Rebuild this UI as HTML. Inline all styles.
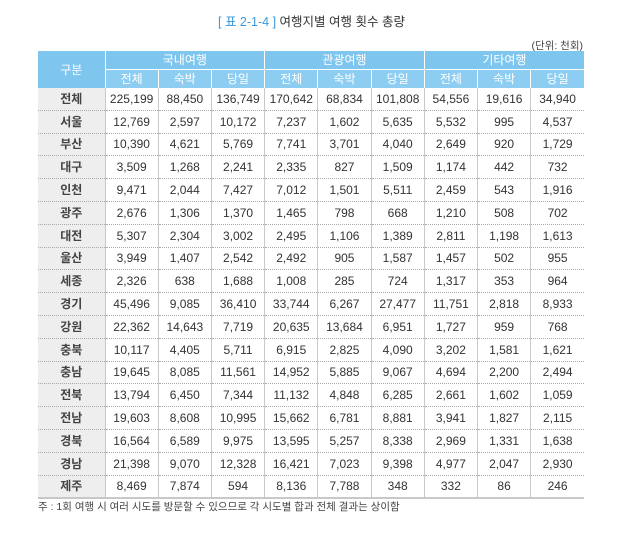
<!DOCTYPE html>
<html><head><meta charset="utf-8"><style>
body{margin:0;width:623px;height:543px;background:#fff;font-family:"Liberation Sans","Noto Sans CJK KR",sans-serif;position:relative;overflow:hidden}
.title{position:absolute;top:11px;left:0;width:623px;text-align:center;font-size:12.5px;color:#333}
.title b{color:#3a9ad9;font-weight:normal}
.unit{position:absolute;top:38px;right:40px;font-size:10.5px;color:#444}
table{position:absolute;left:38px;top:51px;border-collapse:collapse;table-layout:fixed;width:546px}
td,th{padding:0;text-align:center;font-size:12px;color:#333;font-weight:normal;white-space:nowrap;line-height:14px}
th{background:#7fc6ef;color:#fff;font-size:12px;height:18px;border-left:1px solid #fff}
th.sub{background:#8dcdf2;height:18px;border-top:1px solid #fff}
th.g{border-left:none}
td{height:21.8px;border-left:1px solid #c8c8c8;border-bottom:1px dotted #aaa}
td.r{background:#eeeeee;border-left:none;font-weight:bold;color:#444}
tr.last td{border-bottom:2px solid #c8c8c8}
.note{position:absolute;left:38px;top:499px;font-size:10.5px;color:#444}
</style></head><body>
<div class="title"><b>[ 표 2-1-4 ]</b> 여행지별 여행 횟수 총량</div>
<div class="unit">(단위: 천회)</div>
<table>
<colgroup><col style="width:67px"><col span="9" style="width:53.2px"></colgroup>
<tr><th rowspan="2" class="g">구분</th><th colspan="3">국내여행</th><th colspan="3">관광여행</th><th colspan="3">기타여행</th></tr>
<tr><th class="sub">전체</th><th class="sub">숙박</th><th class="sub">당일</th><th class="sub">전체</th><th class="sub">숙박</th><th class="sub">당일</th><th class="sub">전체</th><th class="sub">숙박</th><th class="sub">당일</th></tr>
<tr><td class="r">전체</td><td>225,199</td><td>88,450</td><td>136,749</td><td>170,642</td><td>68,834</td><td>101,808</td><td>54,556</td><td>19,616</td><td>34,940</td></tr>
<tr><td class="r">서울</td><td>12,769</td><td>2,597</td><td>10,172</td><td>7,237</td><td>1,602</td><td>5,635</td><td>5,532</td><td>995</td><td>4,537</td></tr>
<tr><td class="r">부산</td><td>10,390</td><td>4,621</td><td>5,769</td><td>7,741</td><td>3,701</td><td>4,040</td><td>2,649</td><td>920</td><td>1,729</td></tr>
<tr><td class="r">대구</td><td>3,509</td><td>1,268</td><td>2,241</td><td>2,335</td><td>827</td><td>1,509</td><td>1,174</td><td>442</td><td>732</td></tr>
<tr><td class="r">인천</td><td>9,471</td><td>2,044</td><td>7,427</td><td>7,012</td><td>1,501</td><td>5,511</td><td>2,459</td><td>543</td><td>1,916</td></tr>
<tr><td class="r">광주</td><td>2,676</td><td>1,306</td><td>1,370</td><td>1,465</td><td>798</td><td>668</td><td>1,210</td><td>508</td><td>702</td></tr>
<tr><td class="r">대전</td><td>5,307</td><td>2,304</td><td>3,002</td><td>2,495</td><td>1,106</td><td>1,389</td><td>2,811</td><td>1,198</td><td>1,613</td></tr>
<tr><td class="r">울산</td><td>3,949</td><td>1,407</td><td>2,542</td><td>2,492</td><td>905</td><td>1,587</td><td>1,457</td><td>502</td><td>955</td></tr>
<tr><td class="r">세종</td><td>2,326</td><td>638</td><td>1,688</td><td>1,008</td><td>285</td><td>724</td><td>1,317</td><td>353</td><td>964</td></tr>
<tr><td class="r">경기</td><td>45,496</td><td>9,085</td><td>36,410</td><td>33,744</td><td>6,267</td><td>27,477</td><td>11,751</td><td>2,818</td><td>8,933</td></tr>
<tr><td class="r">강원</td><td>22,362</td><td>14,643</td><td>7,719</td><td>20,635</td><td>13,684</td><td>6,951</td><td>1,727</td><td>959</td><td>768</td></tr>
<tr><td class="r">충북</td><td>10,117</td><td>4,405</td><td>5,711</td><td>6,915</td><td>2,825</td><td>4,090</td><td>3,202</td><td>1,581</td><td>1,621</td></tr>
<tr><td class="r">충남</td><td>19,645</td><td>8,085</td><td>11,561</td><td>14,952</td><td>5,885</td><td>9,067</td><td>4,694</td><td>2,200</td><td>2,494</td></tr>
<tr><td class="r">전북</td><td>13,794</td><td>6,450</td><td>7,344</td><td>11,132</td><td>4,848</td><td>6,285</td><td>2,661</td><td>1,602</td><td>1,059</td></tr>
<tr><td class="r">전남</td><td>19,603</td><td>8,608</td><td>10,995</td><td>15,662</td><td>6,781</td><td>8,881</td><td>3,941</td><td>1,827</td><td>2,115</td></tr>
<tr><td class="r">경북</td><td>16,564</td><td>6,589</td><td>9,975</td><td>13,595</td><td>5,257</td><td>8,338</td><td>2,969</td><td>1,331</td><td>1,638</td></tr>
<tr><td class="r">경남</td><td>21,398</td><td>9,070</td><td>12,328</td><td>16,421</td><td>7,023</td><td>9,398</td><td>4,977</td><td>2,047</td><td>2,930</td></tr>
<tr class="last"><td class="r">제주</td><td>8,469</td><td>7,874</td><td>594</td><td>8,136</td><td>7,788</td><td>348</td><td>332</td><td>86</td><td>246</td></tr>
</table>
<div class="note">주 : 1회 여행 시 여러 시도를 방문할 수 있으므로 각 시도별 합과 전체 결과는 상이함</div>
</body></html>
